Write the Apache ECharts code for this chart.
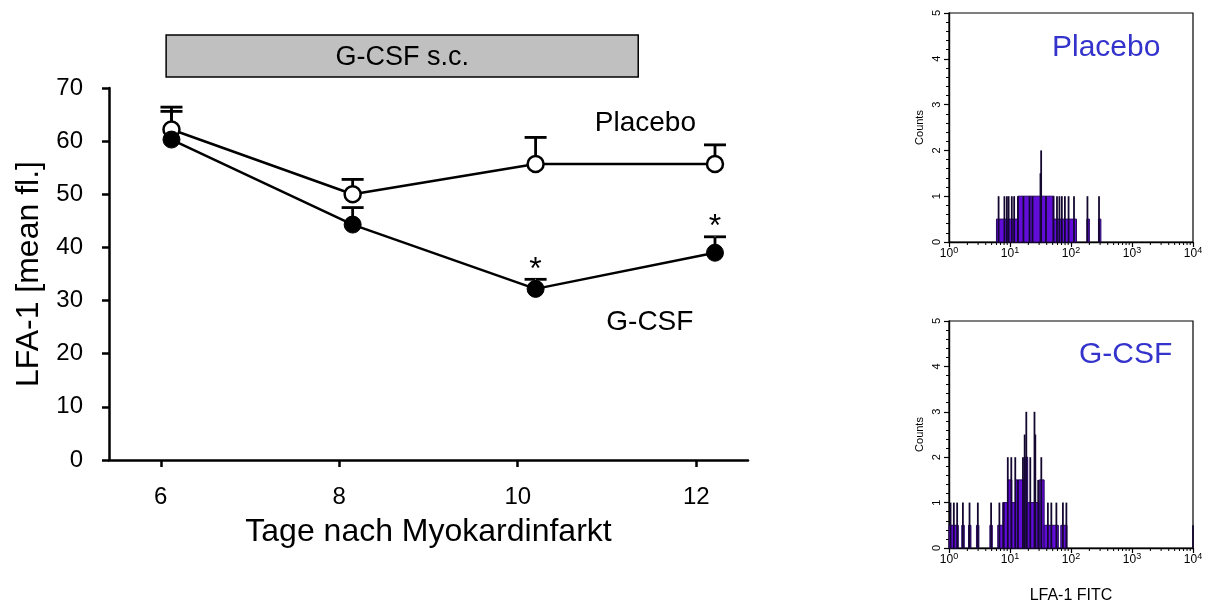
<!DOCTYPE html>
<html><head><meta charset="utf-8">
<script src="https://cdn.jsdelivr.net/npm/echarts@6/dist/echarts.min.js"></script>
<style>html,body{margin:0;padding:0;background:#fff}#c{width:1215px;height:610px}</style>
</head><body><div id="c"></div>
<script>
// ---- main chart data ----
const days = [6.12, 8.15, 10.2, 12.21];
const placeboMean = [62.2, 50.0, 55.7, 55.7];
const placeboUpper = [66.4, 52.8, 60.7, 59.3];
const gcsfMean = [60.3, 44.3, 32.2, 39.0];
const gcsfUpper = [65.6, 47.5, 34.0, 42.0];
const sigDays = [10.2, 12.21];
const sigUpper = [34.0, 42.0];
const dayTicks = [6, 8, 10, 12];
const treatmentDays = [6.06, 11.35];

// ---- flow histogram data (LFA-1 FITC channel, counts) ----
const placeboBinStart = [6.0, 13.5, 52.5, 182, 282];
const placeboBinEnd   = [13.5, 52.5, 123, 200, 309];
const placeboBinCount = [0.5, 1, 0.5, 0.5, 0.5];
const placeboSpikeX = [6.5, 8.1, 8.9, 9.5, 10.7, 11.7, 13.5, 16.6, 20.9, 23.4, 31.6, 32.4, 38.9, 51.3, 58.9, 64.6, 70.8, 79.4, 91.2, 112, 186, 288];
const placeboSpikeY = [1, 1, 1, 1, 1, 1, 1, 1, 1, 1, 1.5, 2, 1, 1, 1, 1, 1, 1, 1, 1, 1, 1];

const gcsfBinStart = [1.0, 1.62, 2.09, 2.82, 4.68, 6.3, 7.6, 9.1, 10.7, 12.3, 17.0, 19.5, 30.2, 36.3, 68];
const gcsfBinEnd   = [1.42, 1.78, 2.29, 3.09, 5.13, 7.6, 9.1, 10.7, 12.3, 17.0, 19.5, 30.2, 36.3, 62, 86];
const gcsfBinCount = [0.5, 0.5, 0.5, 0.5, 0.5, 0.5, 1, 1.5, 1, 1.5, 2, 1, 1.5, 0.5, 0.5];
const gcsfSpikeX = [1.06, 1.2, 1.36, 1.69, 2.17, 2.97, 4.9, 6.7, 7.9, 9.2, 10.5, 12.2, 13.5, 16.3, 17.4, 18.5, 21.5, 25.2, 26.0, 29.0, 32.6, 41.8, 47.6, 57.6, 73.7, 84, 10000];
const gcsfSpikeY = [1, 1, 1, 1, 1, 1, 1, 1, 1, 2, 2, 2, 1.5, 2, 2.5, 3, 2, 3, 2.5, 1.5, 2, 1, 1, 1, 1, 1, 0.5];

const logMinorTicks = [2,3,4,5,6,7,8,9,20,30,40,50,60,70,80,90,200,300,400,500,600,700,800,900,2000,3000,4000,5000,6000,7000,8000,9000];

const FONT = "'Liberation Sans', Arial, Helvetica, sans-serif";
const PURPLE = '#620cda';
const BLUE = '#3434cc';

const chart = echarts.init(document.getElementById('c'), null, {renderer: 'canvas'});

function errorBarSeries(name, mean, upper) {
  return {
    type: 'custom', name: name, xAxisIndex: 0, yAxisIndex: 0, z: 1,
    data: days.map((d, i) => [d, mean[i], upper[i]]),
    encode: {x: 0, y: [1, 2]},
    renderItem: function (params, api) {
      const p0 = api.coord([api.value(0), api.value(1)]);
      const p1 = api.coord([api.value(0), api.value(2)]);
      const st = {stroke: '#000', lineWidth: 2.8};
      return {type: 'group', children: [
        {type: 'line', shape: {x1: p0[0], y1: p0[1], x2: p1[0], y2: p1[1]}, style: st},
        {type: 'line', shape: {x1: p1[0] - 11, y1: p1[1], x2: p1[0] + 11, y2: p1[1]}, style: st}
      ]};
    }
  };
}

function binSeries(idx, start, end, count) {
  return {
    type: 'custom', xAxisIndex: idx, yAxisIndex: idx, z: 2,
    data: start.map((s, i) => [s, end[i], count[i]]),
    encode: {x: [0, 1], y: 2},
    renderItem: function (params, api) {
      const a = api.coord([api.value(0), api.value(2)]);
      const b = api.coord([api.value(1), 0]);
      return {type: 'rect', shape: {x: a[0], y: a[1], width: b[0] - a[0], height: b[1] - a[1]},
        style: {fill: PURPLE, stroke: '#280860', lineWidth: 1}};
    }
  };
}

function spikeSeries(idx, xs, ys) {
  return {
    type: 'custom', xAxisIndex: idx, yAxisIndex: idx, z: 3,
    data: xs.map((x, i) => [x, ys[i]]),
    encode: {x: 0, y: 1},
    renderItem: function (params, api) {
      const a = api.coord([api.value(0), 0]);
      const b = api.coord([api.value(0), api.value(1)]);
      return {type: 'line', shape: {x1: a[0], y1: a[1], x2: b[0], y2: b[1]},
        style: {stroke: '#150830', lineWidth: 1.8}};
    }
  };
}

function minorTickSeries(idx) {
  return {
    type: 'custom', xAxisIndex: idx, yAxisIndex: idx, z: 4, clip: false, silent: true,
    data: logMinorTicks.map(v => [v, 0]),
    encode: {x: 0, y: 1},
    renderItem: function (params, api) {
      const a = api.coord([api.value(0), 0]);
      return {type: 'line', shape: {x1: a[0], y1: a[1], x2: a[0], y2: a[1] + 3},
        style: {stroke: '#000', lineWidth: 1}};
    }
  };
}

function histX(idx, withName) {
  const ax = {
    type: 'log', logBase: 10, gridIndex: idx, min: 1, max: 10000,
    axisLine: {show: true, lineStyle: {color: '#000', width: 1.4}},
    axisTick: {show: true, length: 5, lineStyle: {color: '#000', width: 1.2}},
    splitLine: {show: false},
    axisLabel: {
      margin: 4, color: '#000', fontFamily: FONT,
      formatter: function (v) { return '{b|10}{s|' + Math.round(Math.log10(v)) + '}'; },
      rich: {
        b: {fontSize: 12, fontFamily: FONT, color: '#000', lineHeight: 15},
        s: {fontSize: 9, fontFamily: FONT, color: '#000', lineHeight: 15, verticalAlign: 'top', padding: [0, 0, 6, 0]}
      }
    }
  };
  if (withName) {
    ax.name = 'LFA-1 FITC';
    ax.nameLocation = 'middle';
    ax.nameGap = 40;
    ax.nameTextStyle = {fontSize: 16, fontFamily: FONT, color: '#000'};
  }
  return ax;
}

function histY(idx) {
  return {
    type: 'value', gridIndex: idx, min: 0, max: 5, interval: 1,
    axisLine: {show: true, lineStyle: {color: '#000', width: 1.4}},
    axisTick: {show: true, length: 5, lineStyle: {color: '#000', width: 1.2}},
    minorTick: {show: true, splitNumber: 5, length: 3, lineStyle: {color: '#000', width: 1}},
    splitLine: {show: false},
    axisLabel: {rotate: 90, fontSize: 11, fontFamily: FONT, color: '#000', margin: 7},
    name: 'Counts', nameLocation: 'middle', nameGap: 24,
    nameTextStyle: {fontSize: 11, fontFamily: FONT, color: '#000'}
  };
}

const textLabel = {color: '#000', fontFamily: FONT, textBorderWidth: 0, opacity: 1};

const option = {
  animation: false,
  backgroundColor: '#fff',
  textStyle: {fontFamily: FONT},
  title: [
    {text: 'Placebo', left: 1047, top: 28, textStyle: {fontSize: 30, fontWeight: 'normal', color: BLUE, fontFamily: FONT}},
    {text: 'G-CSF', left: 1074, top: 335, textStyle: {fontSize: 30, fontWeight: 'normal', color: BLUE, fontFamily: FONT}}
  ],
  grid: [
    {left: 109, top: 88, width: 639, height: 372},
    {left: 949, top: 13, width: 244, height: 229, show: true, borderColor: '#000', borderWidth: 1.2, backgroundColor: 'transparent'},
    {left: 949, top: 321, width: 244, height: 227, show: true, borderColor: '#000', borderWidth: 1.2, backgroundColor: 'transparent'}
  ],
  xAxis: [
    {
      type: 'value', gridIndex: 0, min: 5.42, max: 12.58,
      axisLine: {show: true, lineStyle: {color: '#000', width: 2.5}},
      axisTick: {show: true, customValues: dayTicks, length: 7, lineStyle: {color: '#000', width: 2.5}},
      axisLabel: {customValues: dayTicks, fontSize: 24, color: '#000', fontFamily: FONT, margin: 25},
      splitLine: {show: false},
      name: 'Tage nach Myokardinfarkt', nameLocation: 'middle', nameGap: 56,
      nameTextStyle: {fontSize: 32, color: '#000', fontFamily: FONT}
    },
    histX(1, false),
    histX(2, true)
  ],
  yAxis: [
    {
      type: 'value', gridIndex: 0, min: 0, max: 70, interval: 10,
      axisLine: {show: true, lineStyle: {color: '#000', width: 2.5}},
      axisTick: {show: true, length: 7, lineStyle: {color: '#000', width: 2.5}},
      axisLabel: {fontSize: 24, color: '#000', fontFamily: FONT, margin: 26},
      splitLine: {show: false},
      name: 'LFA-1 [mean fl.]', nameLocation: 'middle', nameGap: 62,
      nameTextStyle: {fontSize: 32, color: '#000', fontFamily: FONT}
    },
    histY(1),
    histY(2)
  ],
  series: [
    // treatment period bar
    {
      type: 'custom', xAxisIndex: 0, yAxisIndex: 0, clip: false, z: 1,
      data: [[treatmentDays[0], treatmentDays[1]]],
      encode: {x: [0, 1]},
      renderItem: function (params, api) {
        const a = api.coord([api.value(0), 79.97]);
        const b = api.coord([api.value(1), 72.07]);
        return {type: 'group', children: [
          {type: 'rect', shape: {x: a[0], y: a[1], width: b[0] - a[0], height: b[1] - a[1]},
            style: {fill: '#c0c0c0', stroke: '#000', lineWidth: 1.5}},
          {type: 'text', x: (a[0] + b[0]) / 2, y: (a[1] + b[1]) / 2 + 2,
            style: {text: 'G-CSF s.c.', fill: '#000', fontSize: 27, fontFamily: FONT, align: 'center', verticalAlign: 'middle'}}
        ]};
      }
    },
    errorBarSeries('placeboErr', placeboMean, placeboUpper),
    errorBarSeries('gcsfErr', gcsfMean, gcsfUpper),
    {
      name: 'Placebo', type: 'line', xAxisIndex: 0, yAxisIndex: 0, z: 3,
      data: days.map((d, i) => [d, placeboMean[i]]),
      symbol: 'circle', symbolSize: 16,
      itemStyle: {color: '#fff', borderColor: '#000', borderWidth: 2.5},
      lineStyle: {color: '#000', width: 2.5}
    },
    {
      name: 'G-CSF', type: 'line', xAxisIndex: 0, yAxisIndex: 0, z: 3,
      data: days.map((d, i) => [d, gcsfMean[i]]),
      symbol: 'circle', symbolSize: 17,
      itemStyle: {color: '#000', borderColor: '#000', borderWidth: 1},
      lineStyle: {color: '#000', width: 2.5}
    },
    // significance asterisks
    {
      type: 'scatter', xAxisIndex: 0, yAxisIndex: 0, symbolSize: 1, z: 4,
      itemStyle: {color: '#fff'},
      data: sigDays.map((d, i) => [d, sigUpper[i]]),
      label: Object.assign({show: true, position: 'top', distance: -6, formatter: '*', fontSize: 32, lineHeight: 30}, textLabel)
    },
    // series labels
    {
      type: 'scatter', xAxisIndex: 0, yAxisIndex: 0, symbolSize: 1, z: 4,
      itemStyle: {color: '#fff'},
      data: [{name: 'Placebo', value: [11.43, 63.4]}, {name: 'G-CSF', value: [11.48, 26.0]}],
      label: Object.assign({show: true, position: 'inside', formatter: '{b}', fontSize: 28}, textLabel)
    },
    // histograms
    binSeries(1, placeboBinStart, placeboBinEnd, placeboBinCount),
    spikeSeries(1, placeboSpikeX, placeboSpikeY),
    minorTickSeries(1),
    binSeries(2, gcsfBinStart, gcsfBinEnd, gcsfBinCount),
    spikeSeries(2, gcsfSpikeX, gcsfSpikeY),
    minorTickSeries(2)
  ]
};
chart.setOption(option);
</script>
</body></html>
